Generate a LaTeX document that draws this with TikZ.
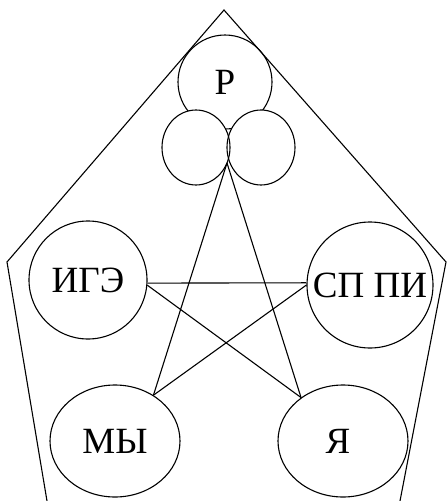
\documentclass[tikz,border=0pt]{standalone}
\usepackage{fontspec}
\setmainfont{Liberation Serif}
\usetikzlibrary{shapes.geometric}
\begin{document}
\begin{tikzpicture}[x=1pt,y=-1pt,line width=1.1pt,
  big/.style={font=\fontsize{37}{40}\selectfont},
  circ/.style={draw,circle,inner sep=0pt,big},
  ell/.style={draw,ellipse,inner sep=0pt,big},
  small/.style={ellipse,inner sep=0pt,minimum width=68pt,minimum height=75pt}]
\useasboundingbox (0,0) rectangle (447,501);
\draw (47,501) -- (7,262) -- (224,10) -- (446,262) -- (400,501);
\node[circ,minimum size=94pt] (p) at (225,82) {Р};
\node[small,fill=white] (slbg) at (196,147.5) {};
\node[small,fill=white] (srbg) at (261,147.5) {};
\node[small,draw] (sl) at (196,147.5) {};
\node[small,draw] (sr) at (261,147.5) {};
\node[circ,minimum size=118pt] (ige) at (88,280) {ИГЭ};
\node[circ,minimum size=126pt] (sp) at (370,285) {СП ПИ};
\node[ell,minimum width=130pt,minimum height=112pt] (mu) at (115,441) {МЫ};
\node[ell,minimum width=130pt,minimum height=112pt] (ya) at (343,441) {};
\node[big,inner sep=0pt] (yat) at (338,441) {Я};
\coordinate (ap) at (227,163);
\draw (ige.-3) -- (sp.178);
\draw (ige.-5) -- (ya.134);
\draw (sp.180) -- (mu.50);
\draw (ap) -- (mu.50);
\draw (ap) -- (ya.134);
\end{tikzpicture}
\end{document}
